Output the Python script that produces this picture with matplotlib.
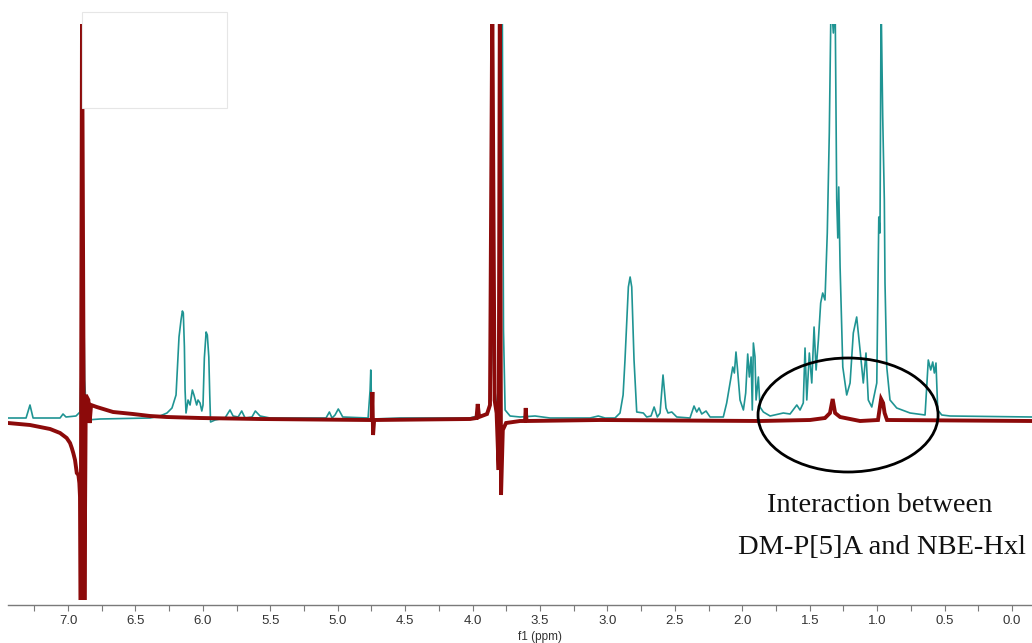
import numpy as np
import matplotlib
matplotlib.use('Agg')
import matplotlib.pyplot as plt
from matplotlib.patches import Ellipse, Rectangle

# spectrum of NBE-Hxl alone (teal) and mixed with DM-P[5]A (dark red)
# intensities in arbitrary units, 0 = teal baseline, peaks above 394 are off scale
teal_ppm = [7.445, 7.311, 7.282, 7.259, 7.059, 7.037, 7.015, 6.941, 6.911, 6.896, 6.886, 6.877, 6.861,
            6.763, 6.392, 6.318, 6.266, 6.229, 6.199, 6.177, 6.162, 6.152, 6.145, 6.137, 6.132, 6.125,
            6.110, 6.095, 6.078, 6.066, 6.046, 6.036, 6.021, 6.008, 5.999, 5.989, 5.976, 5.967, 5.956,
            5.949, 5.943, 5.910, 5.836, 5.799, 5.776, 5.739, 5.712, 5.687, 5.636, 5.611, 5.576, 5.502,
            5.087, 5.062, 5.042, 5.020, 4.996, 4.983, 4.963, 4.775, 4.760, 4.755, 4.749, 4.738, 4.538,
            4.019, 3.967, 3.908, 3.878, 3.862, 3.849, 3.836, 3.822, 3.807, 3.789, 3.780, 3.771, 3.759,
            3.722, 3.648, 3.537, 3.426, 3.129, 3.068, 3.018, 2.944, 2.907, 2.884, 2.870, 2.845, 2.832,
            2.820, 2.803, 2.783, 2.734, 2.709, 2.677, 2.654, 2.630, 2.610, 2.588, 2.566, 2.551, 2.523,
            2.486, 2.388, 2.358, 2.338, 2.321, 2.301, 2.269, 2.239, 2.141, 2.116, 2.091, 2.071, 2.059,
            2.047, 2.037, 2.017, 1.992, 1.975, 1.960, 1.948, 1.935, 1.926, 1.918, 1.906, 1.898, 1.881,
            1.869, 1.844, 1.794, 1.696, 1.646, 1.596, 1.572, 1.548, 1.535, 1.522, 1.503, 1.485, 1.468,
            1.453, 1.436, 1.419, 1.404, 1.387, 1.370, 1.355, 1.342, 1.325, 1.312, 1.300, 1.292, 1.285,
            1.275, 1.255, 1.226, 1.201, 1.177, 1.152, 1.127, 1.103, 1.083, 1.066, 1.040, 1.003, 0.988,
            0.979, 0.971, 0.959, 0.947, 0.942, 0.929, 0.905, 0.855, 0.756, 0.645, 0.621, 0.603, 0.588,
            0.576, 0.564, 0.551, 0.521, 0.460, -0.148]
teal_int = [0, 0, 13, 0, 0, 4, 1, 2, 6, 88, 160, 38, -2,
            -1, 0, 2, 5, 10, 23, 81, 98, 107, 105, 71, 28, 5,
            18, 13, 28, 23, 13, 18, 15, 7, 13, 60, 86, 83, 61,
            23, -4, -2, 0, 8, 2, 1, 7, 0, 1, 7, 2, 0,
            0, 6, 0, 3, 9, 6, 1, 0, 28, 48, 13, -1, 0,
            0, 2, 3, 8, 38, 113, 28, 15, 18, 118, 420, 88, 8,
            2, 1, 2, 0, 0, 2, 0, 0, 5, 23, 58, 131, 141,
            131, 58, 6, 5, 1, 2, 11, 1, 5, 43, 10, 5, 6,
            1, 0, 12, 6, 10, 4, 7, 1, 1, 15, 35, 51, 45,
            66, 51, 18, 8, 25, 64, 41, 61, 8, 75, 61, 18, 41,
            11, 6, 2, 5, 4, 13, 8, 15, 70, 18, 65, 35, 91,
            48, 78, 115, 125, 118, 185, 285, 420, 385, 420, 218, 180, 231,
            151, 51, 23, 35, 85, 101, 68, 35, 65, 18, 11, 35, 201,
            185, 420, 301, 218, 135, 51, 18, 10, 5, 3, 58, 48, 56,
            45, 55, 8, 3, 2, 1]

red_ppm = [7.445, 7.282, 7.133, 7.059, 7.010, 6.985, 6.972, 6.961, 6.948, 6.935, 6.923, 6.916, 6.911,
           6.906, 6.896, 6.878, 6.868, 6.849, 6.840, 6.829, 6.787, 6.763, 6.666, 6.518, 6.392, 6.268,
           6.021, 5.576, 4.775, 4.749, 4.743, 4.738, 4.730, 4.019, 3.971, 3.962, 3.952, 3.893, 3.871,
           3.854, 3.837, 3.822, 3.807, 3.798, 3.789, 3.776, 3.752, 3.648, 3.611, 3.606, 3.600, 3.055,
           1.869, 1.498, 1.387, 1.350, 1.330, 1.312, 1.275, 1.201, 1.127, 0.994, 0.983, 0.971, 0.956,
           0.945, 0.927, -0.148]
red_int = [-5, -7, -11, -15, -20, -25, -30, -35, -42, -55, -57, -65, -79,
           -182, 420, -182, 23, 18, -5, 13, 11, 10, 6, 4, 2, 1,
           0, -1, -2, -2, 26, -17, -2, -1, 0, 14, 1, 4, 13,
           420, 18, 5, -52, 420, -77, -12, -5, -3, -3, 10, -3, -2,
           -3, -2, 0, 5, 19, 5, 1, -1, -3, -2, 8, 19, 15,
           5, -2, -3]

major_ticks = [0.0, 0.5, 1.0, 1.5, 2.0, 2.5, 3.0, 3.5, 4.0, 4.5, 5.0, 5.5, 6.0, 6.5, 7.0]
minor_ticks = [0.25, 0.75, 1.25, 1.75, 2.25, 2.75, 3.25, 3.75, 4.25, 4.75, 5.25, 5.75, 6.25, 6.75, 7.25]

fig = plt.figure(figsize=(10.32, 6.43), dpi=100)
ax = fig.add_axes([8 / 1032, 38 / 643, 1024 / 1032, 581 / 643])

ax.plot(teal_ppm, teal_int, color='#1f9493', lw=1.2, zorder=2)
ax.plot(red_ppm, red_int, color='#8c0a0a', lw=2.8, zorder=3, solid_joinstyle='miter')

ax.set_xlim(7.445, -0.148)
ax.set_ylim(-187, 394)

for s in ['left', 'right', 'top']:
    ax.spines[s].set_visible(False)
ax.spines['bottom'].set_color('#7a7a7a')
ax.spines['bottom'].set_linewidth(1.0)
ax.set_yticks([])
ax.set_xticks(major_ticks)
ax.set_xticklabels(['%.1f' % t for t in major_ticks])
ax.set_xticks(minor_ticks, minor=True)
ax.tick_params(axis='x', which='both', direction='out', length=4, width=0.8, color='#7a7a7a')
ax.tick_params(axis='x', which='major', pad=3, labelsize=9.5, labelcolor='#333333')
for lab in ax.get_xticklabels():
    lab.set_family(['Liberation Sans Narrow', 'Liberation Sans', 'DejaVu Sans'])
ax.set_xlabel('f1 (ppm)', fontsize=8.5, color='#333333',
              family=['Liberation Sans Narrow', 'Liberation Sans', 'DejaVu Sans'])
ax.xaxis.set_label_coords(0.52, -0.044)

# ellipse around the 1.3 / 0.9 ppm region
ell = Ellipse((1.216, 3), width=1.335, height=114, fill=False, edgecolor='black', lw=2, zorder=4,
              clip_on=False)
ax.add_patch(ell)

fig.text(880 / 1032, 1 - 512 / 643, 'Interaction between', ha='center', va='baseline',
         fontsize=20.5, family='Liberation Serif', color='#111111')
fig.text(882 / 1032, 1 - 554 / 643, 'DM-P[5]A and NBE-Hxl', ha='center', va='baseline',
         fontsize=20.5, family='Liberation Serif', color='#111111')

# blank box at top left
box = Rectangle((82 / 1032, 1 - 108 / 643), 145 / 1032, 96 / 643, transform=fig.transFigure,
                facecolor='white', edgecolor='#e6e6e6', lw=0.8, zorder=10)
fig.add_artist(box)

fig.savefig('out.png', dpi=100)
